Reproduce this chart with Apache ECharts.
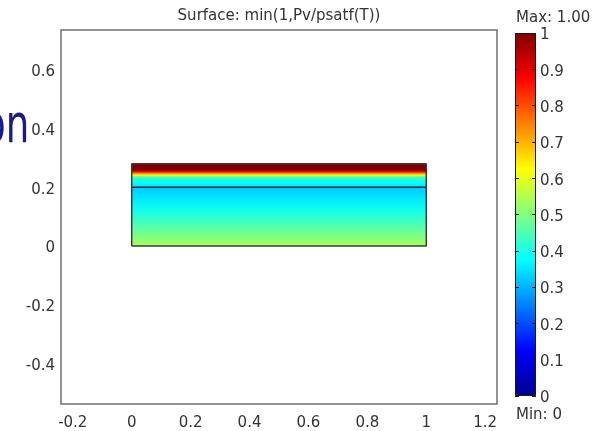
<!DOCTYPE html>
<html>
<head>
<meta charset="utf-8">
<script src="https://cdn.jsdelivr.net/npm/echarts@6/dist/echarts.min.js"></script>
<style>
  html, body { margin: 0; padding: 0; background: #fff; }
  #chart { width: 600px; height: 431px; }
</style>
</head>
<body>
<div id="chart"></div>
<script>
// Axis tick labels
const xTicks = [-0.2, 0, 0.2, 0.4, 0.6, 0.8, 1, 1.2];
const yTicks = [-0.4, -0.2, 0, 0.2, 0.4, 0.6];
const colorbarTicks = [0, 0.1, 0.2, 0.3, 0.4, 0.5, 0.6, 0.7, 0.8, 0.9, 1];

// Geometry: two stacked rectangular domains sharing the edge y = 0.2
const domainX = [0, 1];
const lowerDomainY = [0, 0.2];
const upperDomainY = [0.2, 0.28];

// Vertical profiles of min(1, Pv/psatf(T)) (uniform along x)
const lowerProfileY = [0, 0.04, 0.08, 0.12, 0.16, 0.2];
const lowerProfileV = [0.54, 0.49, 0.44, 0.395, 0.355, 0.32];
const upperProfileY = [0.2, 0.207, 0.215, 0.225, 0.232, 0.237, 0.242, 0.248, 0.253, 0.258, 0.28];
const upperProfileV = [0.33, 0.36, 0.38, 0.40, 0.43, 0.50, 0.62, 0.75, 0.87, 1.0, 1.0];

// Jet colour table, evenly spaced over [0, 1]
const jetColors = ['#00008f', '#0000ff', '#0080ff', '#00ffff', '#80ff80',
                   '#ffff00', '#ff8000', '#ff0000', '#800000'];
const rangeMin = 0;
const rangeMax = 1;

const titleText = 'Surface: min(1,Pv/psatf(T))';
const maxText = 'Max: 1.00';
const minText = 'Min: 0';
const sideText = 'on';

const FONT = 'DejaVu Sans';
const TEXT_COLOR = '#333';

function hexToRgb(h) {
  return [parseInt(h.slice(1, 3), 16), parseInt(h.slice(3, 5), 16), parseInt(h.slice(5, 7), 16)];
}
const jetRgb = jetColors.map(hexToRgb);

// Map a value in [rangeMin, rangeMax] through the jet table
function jet(v) {
  let t = (v - rangeMin) / (rangeMax - rangeMin);
  t = Math.max(0, Math.min(1, t)) * (jetRgb.length - 1);
  const i = Math.min(Math.floor(t), jetRgb.length - 2);
  const f = t - i;
  const a = jetRgb[i], b = jetRgb[i + 1];
  const c = a.map((x, k) => Math.round(x + (b[k] - x) * f));
  return 'rgb(' + c.join(',') + ')';
}

const profiles = [
  { y: lowerProfileY, v: lowerProfileV },
  { y: upperProfileY, v: upperProfileV }
];
const domainData = [
  [domainX[0], lowerDomainY[0], domainX[1], lowerDomainY[1]],
  [domainX[0], upperDomainY[0], domainX[1], upperDomainY[1]]
];

// Each domain is filled with a vertical gradient built from its profile
function renderDomain(params, api) {
  const p = profiles[params.dataIndex];
  const x0 = api.value(0), y0 = api.value(1), x1 = api.value(2), y1 = api.value(3);
  const tl = api.coord([x0, y1]);
  const br = api.coord([x1, y0]);
  const stops = p.y.map((yy, i) => ({ offset: (yy - y0) / (y1 - y0), color: jet(p.v[i]) }));
  return {
    type: 'rect',
    shape: { x: tl[0], y: tl[1], width: br[0] - tl[0], height: br[1] - tl[1] },
    style: { fill: new echarts.graphic.LinearGradient(0, 1, 0, 0, stops) }
  };
}

const outline = [
  [domainX[0], lowerDomainY[0]], [domainX[1], lowerDomainY[0]],
  [domainX[1], upperDomainY[1]], [domainX[0], upperDomainY[1]],
  [domainX[0], lowerDomainY[0]]
];
const interfaceLine = [[domainX[0], upperDomainY[0]], [domainX[1], upperDomainY[0]]];

const colorbarGradient = new echarts.graphic.LinearGradient(0, 1, 0, 0,
  jetColors.map((c, i) => ({ offset: i / (jetColors.length - 1), color: c })));

const labelStyle = { fontFamily: FONT, fontSize: 15, color: TEXT_COLOR };
// vertical labels sit a little below their tick
const lowLabel = { verticalAlign: 'top', lineHeight: 5 };

const chart = echarts.init(document.getElementById('chart'), null, { renderer: 'canvas' });
chart.setOption({
  backgroundColor: '#fff',
  animation: false,
  grid: [
    { left: 61, top: 30, width: 436, height: 374, show: true,
      borderColor: '#707070', borderWidth: 1.5, backgroundColor: '#fff' },
    { left: 515, top: 33, width: 21, height: 363 }
  ],
  xAxis: [
    { type: 'value', gridIndex: 0, min: -0.24, max: 1.24,
      axisLine: { show: false }, axisTick: { show: false }, splitLine: { show: false },
      axisLabel: Object.assign({ customValues: xTicks, margin: 12 }, labelStyle) },
    { type: 'category', gridIndex: 1, data: [''], show: false }
  ],
  yAxis: [
    { type: 'value', gridIndex: 0, min: -0.538, max: 0.736,
      axisLine: { show: false }, axisTick: { show: false }, splitLine: { show: false },
      axisLabel: Object.assign({ customValues: yTicks, margin: 6 }, labelStyle, lowLabel) },
    { type: 'value', gridIndex: 1, min: rangeMin, max: rangeMax, position: 'left', z: 10,
      axisLine: { show: false }, splitLine: { show: false }, axisLabel: { show: false },
      axisTick: { show: true, inside: true, length: 4, customValues: colorbarTicks,
                  lineStyle: { color: '#1a1a1a', width: 1 } } },
    { type: 'value', gridIndex: 1, min: rangeMin, max: rangeMax, position: 'right', z: 10,
      axisLine: { show: false }, splitLine: { show: false },
      axisTick: { show: true, inside: true, length: 4, customValues: colorbarTicks,
                  lineStyle: { color: '#1a1a1a', width: 1 } },
      axisLabel: Object.assign({ customValues: colorbarTicks, margin: 4 }, labelStyle, lowLabel) }
  ],
  series: [
    { type: 'custom', xAxisIndex: 0, yAxisIndex: 0, renderItem: renderDomain,
      data: domainData, z: 2, silent: true },
    { type: 'line', xAxisIndex: 0, yAxisIndex: 0, data: interfaceLine, showSymbol: false,
      lineStyle: { color: '#1c2a40', width: 1.5 }, z: 3, silent: true },
    { type: 'line', xAxisIndex: 0, yAxisIndex: 0, data: outline, showSymbol: false,
      lineStyle: { color: '#3a3a3a', width: 1.5 }, z: 4, silent: true },
    { type: 'bar', xAxisIndex: 1, yAxisIndex: 1, data: [rangeMax], barWidth: '100%',
      itemStyle: { color: colorbarGradient, borderColor: '#1a1a1a', borderWidth: 1 },
      z: 2, silent: true }
  ],
  graphic: [
    { type: 'text', x: 279, y: 16,
      style: { text: titleText, font: '15px "' + FONT + '"', fill: TEXT_COLOR,
               textAlign: 'center', textVerticalAlign: 'middle' } },
    { type: 'text', x: 516, y: 18,
      style: { text: maxText, font: '15px "' + FONT + '"', fill: TEXT_COLOR,
               textAlign: 'left', textVerticalAlign: 'middle' } },
    { type: 'text', x: 516, y: 415,
      style: { text: minText, font: '15px "' + FONT + '"', fill: TEXT_COLOR,
               textAlign: 'left', textVerticalAlign: 'middle' } },
    { type: 'text', x: -17, y: 128, scaleX: 0.7,
      style: { text: sideText, font: '53px "' + FONT + '"', fill: '#1a1a8a',
               textAlign: 'left', textVerticalAlign: 'middle' } }
  ]
});
</script>
</body>
</html>
